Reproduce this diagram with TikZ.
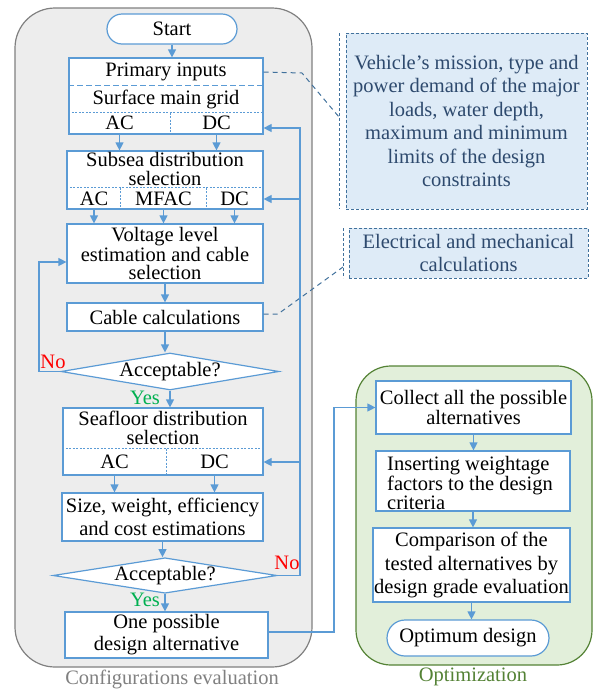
\documentclass[tikz,border=0pt]{standalone}
\usepackage{fontspec}
\setmainfont{Liberation Serif}
\usetikzlibrary{arrows.meta,shapes.geometric}
\definecolor{flowblue}{HTML}{5B9BD5}
\definecolor{framegray}{HTML}{808080}
\definecolor{framefill}{HTML}{EDEDED}
\definecolor{optedge}{HTML}{548235}
\definecolor{optfill}{HTML}{E2EFDA}
\definecolor{noteedge}{HTML}{41719C}
\definecolor{notefill}{HTML}{DEEBF7}
\definecolor{notetext}{HTML}{2E4A6E}
\definecolor{nored}{HTML}{FF0000}
\definecolor{yesgreen}{HTML}{00B050}

\begin{document}
\begin{tikzpicture}[
    x=1pt, y=-1pt,
    font=\fontsize{20.5}{23.5}\selectfont,
    >={Triangle[length=8pt,width=8pt]},
    box/.style={draw=flowblue, line width=1.2pt, fill=white, align=center, inner sep=0pt},
    term/.style={box, rounded corners=15pt},
    decision/.style={box, diamond, aspect=6},
    tight/.style={font=\fontsize{20.5}{18.5}\selectfont},
    cell/.style={inner sep=0pt},
    divider/.style={draw=flowblue, line width=0.8pt, dash pattern=on 2pt off 1.5pt},
    longdivider/.style={draw=flowblue, line width=1pt, dash pattern=on 6pt off 3pt},
    note/.style={draw=noteedge, fill=notefill, line width=1pt, dash pattern=on 3pt off 2pt, text=notetext, align=center, inner sep=0pt},
    bracket/.style={draw=noteedge, line width=1pt, dash pattern=on 3pt off 2pt},
    line/.style={->, draw=flowblue, line width=1.2pt},
    dline/.style={draw=noteedge, line width=1pt, dash pattern=on 5pt off 4pt},
    frame/.style={rounded corners=40pt, line width=1.2pt}
]
\useasboundingbox (0,0) rectangle (593,689);

% Group frames
\node[frame, draw=framegray, fill=framefill, minimum width=297pt, minimum height=659pt] (evalframe) at (163.5,337.5) {};
\node[text=framegray] (evallabel) at (172,679) {Configurations evaluation};
\node[frame, rounded corners=35pt, draw=optedge, fill=optfill, minimum width=236pt, minimum height=299pt] (optframe) at (474,515.5) {};
\node[text=optedge] (optlabel) at (473,677) {Optimization};

% Configurations evaluation (left column)
\node[term, minimum width=130pt, minimum height=30pt] (start) at (172,29) {Start};

\node[box, minimum width=194pt, minimum height=76pt] (prim) at (166,96) {};
\node[cell] (primtxt) at (166,72) {Primary inputs};
\node[cell] (gridtxt) at (166,99) {Surface main grid};
\node[cell] (primac) at (119.5,123) {AC};
\node[cell] (primdc) at (216.5,123) {DC};
\draw[longdivider] ([yshift=-28pt]prim.north west) -- ([yshift=-28pt]prim.north east);
\draw[divider] ([yshift=22pt]prim.south west) -- ([yshift=22pt]prim.south east);
\draw[divider] ([xshift=4pt,yshift=22pt]prim.south) -- ([xshift=4pt]prim.south);

\node[box, minimum width=196pt, minimum height=58pt] (subsea) at (165,180) {};
\node[cell, tight, align=center] (subtxt) at (165,169) {Subsea distribution\\selection};
\node[cell] (subac) at (94,199) {AC};
\node[cell] (submf) at (163.5,199) {MFAC};
\node[cell] (subdc) at (234.5,199) {DC};
\draw[divider] ([yshift=22pt]subsea.south west) -- ([yshift=22pt]subsea.south east);
\draw[divider] ([xshift=54pt,yshift=22pt]subsea.south west) -- ([xshift=54pt]subsea.south west);
\draw[divider] ([xshift=-57pt,yshift=22pt]subsea.south east) -- ([xshift=-57pt]subsea.south east);

\node[box, tight, minimum width=196pt, minimum height=59pt] (volt) at (165,253.5) {Voltage level\\estimation and cable\\selection};
\node[box, minimum width=196pt, minimum height=28pt] (cable) at (165,317) {Cable calculations};
\node[decision, minimum width=218pt, minimum height=37pt] (acc1) at (170,371.5) {Acceptable?};

\node[box, minimum width=200pt, minimum height=67pt] (sea) at (163,441.5) {};
\node[cell, tight, align=center] (seatxt) at (163,428) {Seafloor distribution\\selection};
\node[cell] (seaac) at (114.5,462) {AC};
\node[cell] (seadc) at (214.5,462) {DC};
\draw[divider] ([yshift=27pt]sea.south west) -- ([yshift=27pt]sea.south east);
\draw[divider] ([xshift=3pt,yshift=27pt]sea.south) -- ([xshift=3pt]sea.south);

\node[box, minimum width=201pt, minimum height=48pt] (size) at (162.5,517) {Size, weight, efficiency\\and cost estimations};
\node[decision, minimum width=224pt, minimum height=35pt] (acc2) at (165,575.5) {Acceptable?};
\node[box, font=\fontsize{20.5}{22}\selectfont, minimum width=203pt, minimum height=46pt] (one) at (166.5,635) {One possible\\design alternative};

% Decision labels
\node[text=nored] (no1) at (53,362) {No};
\node[text=yesgreen] (yes1) at (145,398) {Yes};
\node[text=nored] (no2) at (287,563) {No};
\node[text=yesgreen] (yes2) at (145,600) {Yes};

% Optimization (right column)
\node[box, tight, minimum width=195pt, minimum height=53pt] (collect) at (473.5,407.5) {Collect all the possible\\alternatives};
\node[box, minimum width=194pt, minimum height=60pt] (insert) at (473,481) {};
\node[cell, tight, align=left, anchor=west] (inserttxt) at (387,483) {Inserting weightage\\factors to the design\\criteria};
\node[box, minimum width=197pt, minimum height=74pt] (compare) at (471.5,565) {Comparison of the\\tested alternatives by\\design grade evaluation};
\node[term, rounded corners=18pt, minimum width=162pt, minimum height=36pt] (optimum) at (468,638) {Optimum design};

% Notes
\node[note, minimum width=241pt, minimum height=176pt] (inputnote) at (466.5,121) {Vehicle’s mission, type and\\power demand of the major\\loads, water depth,\\maximum and minimum\\limits of the design\\constraints};
\coordinate (brk1top) at (339,33);
\coordinate (brk1bot) at (339,209);
\draw[bracket] (brk1top) -- (brk1bot);
\node[note, minimum width=239pt, minimum height=50pt] (calcnote) at (468.5,253) {Electrical and mechanical\\calculations};
\coordinate (brk2top) at (343,228);
\coordinate (brk2bot) at (343,278);
\draw[bracket] (brk2top) -- (brk2bot);

% Note connectors
\coordinate (knee1) at (302,73);
\coordinate (tip1) at (339,117);
\draw[dline] (prim.east |- primtxt) -- (knee1) -- (tip1);
\coordinate (knee2) at (278,314);
\coordinate (tip2) at (343,267);
\draw[dline] (cable.east |- knee2) -- (knee2) -- (tip2);

% Main flow
\draw[line] (start.south) -- (start.south |- prim.north);
\draw[line] (prim.south -| primac) -- (subsea.north -| primac);
\draw[line] (prim.south -| primdc) -- (subsea.north -| primdc);
\draw[line] (subsea.south -| subac) -- (volt.north -| subac);
\draw[line] (subsea.south -| submf) -- (volt.north -| submf);
\draw[line] (subsea.south -| subdc) -- (volt.north -| subdc);
\draw[line] (volt.south) -- (volt.south |- cable.north);
\draw[line] (cable.south) -- (cable.south |- acc1.north);
\draw[line] (acc1.south) -- (acc1.south |- sea.north);
\draw[line] (sea.south -| seaac) -- (size.north -| seaac);
\draw[line] (sea.south -| seadc) -- (size.north -| seadc);
\draw[line] (size.south) -- (size.south |- acc2.north);
\draw[line] (acc2.south) -- (acc2.south |- one.north);

% No loops
\coordinate (loop1) at (39,262);
\draw[line] (acc1.west) -| (loop1) -- (volt.west |- loop1);
\coordinate (loop2) at (300,128);
\draw[line] (acc2.east) -| (loop2) -- (prim.east |- loop2);
\draw[line] (loop2 |- subdc) -- (subsea.east |- subdc);
\draw[line] (loop2 |- seadc) -- (sea.east |- seadc);

% To optimization
\coordinate (bend) at (334,632);
\draw[line] (one.east |- bend) -- (bend) |- (collect.west);
\draw[line] (collect.south) -- (collect.south |- insert.north);
\draw[line] (insert.south) -- (insert.south |- compare.north);
\draw[line] (compare.south) -- (compare.south |- optimum.north);

\end{tikzpicture}
\end{document}
